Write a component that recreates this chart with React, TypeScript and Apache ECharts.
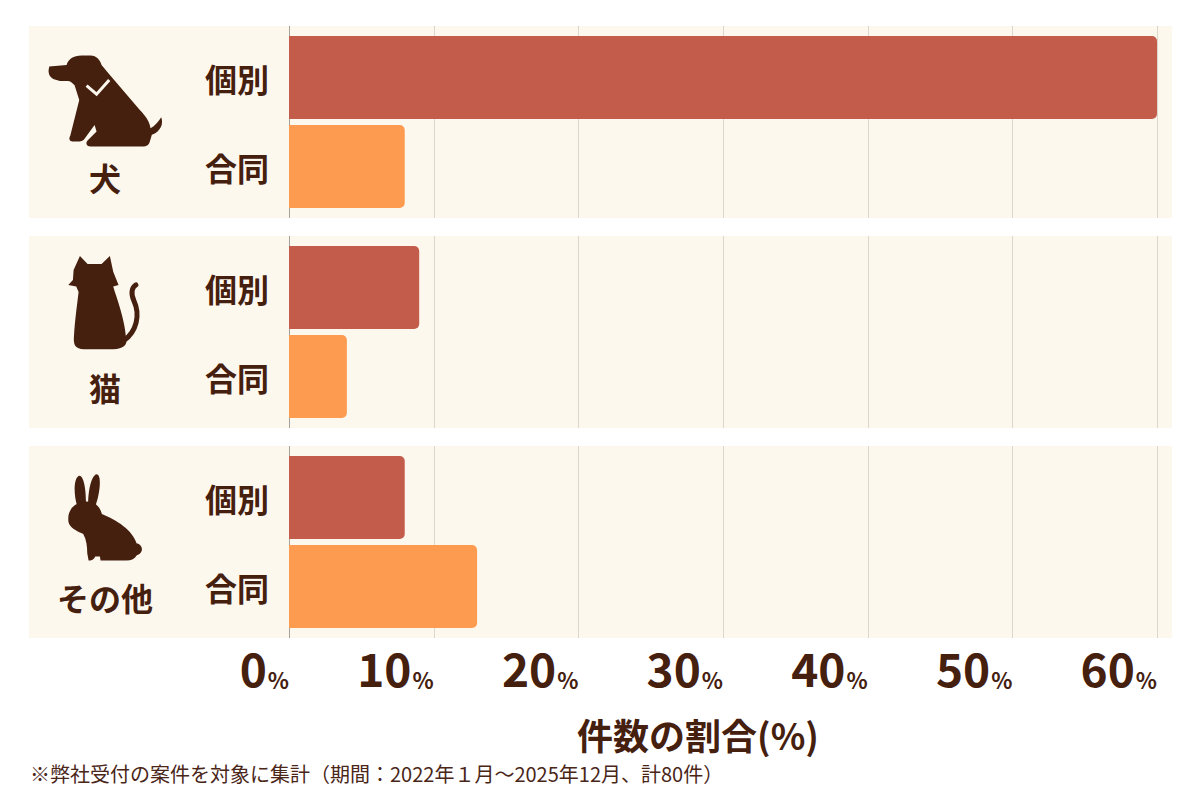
import { useEffect, useRef } from 'react'
import * as echarts from 'echarts'

// 動物ごとの件数割合(%)
const categories = ['犬', '猫', 'その他']
const rowLabels = ['個別', '合同']
const kobetsuValues = [60, 9, 8]
const goudouValues = [8, 4, 13]
const xTicks = [0, 10, 20, 30, 40, 50, 60]

const FONT = '"Noto Sans CJK JP", "Noto Sans", sans-serif'
const TEXT = '#45200f'
const KOBETSU = '#c45c4b'
const GOUDOU = '#fd9b50'
const PANEL = '#fdf8ee'
const GRID_LINE = '#dcd6cd'
const AXIS_LINE = '#a7a199'
const BAR_W = 83
const BAR_GAP = 6

// アイコン (拡大3倍の座標で描いたもの)
const DOG =
  'M148,200 L200,195 C205,178 220,167 245,167 L272,167 C290,167 300,180 305,195 L330,225 L420,330 C440,350 450,368 452,385 C465,378 476,366 484,352 C492,372 482,395 456,405 L450,425 C448,435 440,440 430,440 L272,440 C260,440 256,430 263,422 L290,395 L284,375 L255,415 C250,424 242,425 232,425 L218,425 C208,425 206,416 211,408 L238,300 L224,256 C216,247 210,243 204,243 L180,243 L162,238 C150,232 145,222 146,210 Z'
const DOG_COLLAR = 'M260,257 L290,283 L328,240'
const CAT =
  'M240,78 L263,102 L305,102 L330,78 L340,125 L356,165 L340,170 L345,186 C360,230 375,280 378,320 C386,345 370,358 340,358 L252,358 C226,358 220,345 222,320 C225,270 232,220 236,186 L229,170 L205,165 L219,150 L221,120 Z'
const CAT_TAIL = 'M372,332 C410,305 422,255 402,212 C392,190 396,172 408,165'
const RABBIT =
  'M232,200 C220,160 222,116 236,108 C251,102 259,150 258,190 Z M265,190 C265,150 275,106 290,103 C306,103 301,160 286,200 Z M205,235 C205,205 230,185 260,185 C285,185 300,200 306,222 C350,240 398,270 410,310 C430,314 433,340 411,346 C405,356 395,362 380,362 L302,362 L300,350 L286,350 C281,362 272,362 266,362 L262,340 C262,320 260,300 250,282 C235,276 216,266 210,256 C205,249 205,242 205,235 Z'

// 参照図での各アイコンの位置合わせ (帯の中心からのずれ)
const iconOffsets = [-122, -102, -102]

export default function App() {
  const chartRef = useRef<HTMLDivElement>(null)

  useEffect(() => {
    if (!chartRef.current) return
    const chart = echarts.init(chartRef.current, null, { renderer: 'svg' })

    const option = {
      animation: false,
      backgroundColor: '#ffffff',
      grid: { left: 289, right: 43, top: 17, bottom: 153 },
      xAxis: {
        type: 'value',
        min: 0,
        max: 60,
        interval: 10,
        splitLine: { show: false },
        axisLine: { show: false },
        axisTick: { show: false },
        axisLabel: {
          align: 'right',
          margin: -1,
          formatter: (v: number) => `{n|${v}}{p|%}`,
          rich: {
            n: { fontSize: 46, fontWeight: 'bold', color: TEXT, fontFamily: FONT, verticalAlign: 'bottom', lineHeight: 44 },
            p: { fontSize: 22, fontWeight: 'bold', color: TEXT, fontFamily: FONT, verticalAlign: 'bottom', lineHeight: 44, padding: [0, 0, 0, 1] }
          }
        }
      },
      yAxis: {
        type: 'category',
        inverse: true,
        data: categories,
        axisLine: { show: false },
        axisTick: { show: false },
        axisLabel: { show: false }
      },
      series: [
        {
          type: 'custom',
          name: 'panel',
          silent: true,
          z: 1,
          clip: false,
          encode: { x: 0, y: 1 },
          data: categories.map((_, i) => [0, i]),
          renderItem: (params: any, api: any) => {
            const i = api.value(1)
            const [x0, cy] = api.coord([0, i])
            const xMax = api.coord([60, i])[0]
            const band = api.size([0, 1])[1]
            const half = band * 0.457
            const top = cy - half
            const bottom = cy + half
            const children: any[] = []
            children.push({
              type: 'rect',
              shape: { x: x0 - 260, y: top, width: xMax + 15 - (x0 - 260), height: bottom - top },
              style: { fill: PANEL }
            })
            xTicks.forEach((t) => {
              const x = Math.round(api.coord([t, i])[0]) + 0.5
              children.push({
                type: 'line',
                shape: { x1: x, y1: top, x2: x, y2: bottom },
                style: { stroke: t === 0 ? AXIS_LINE : GRID_LINE, lineWidth: 1 }
              })
            })
            const off = (BAR_W + BAR_GAP) / 2
            rowLabels.forEach((lab, k) => {
              children.push({
                type: 'text',
                style: {
                  text: lab,
                  x: x0 - 20,
                  y: cy + (k === 0 ? -off : off),
                  align: 'right',
                  verticalAlign: 'middle',
                  fontSize: 32,
                  fontWeight: 'bold',
                  fontFamily: FONT,
                  fill: TEXT
                }
              })
            })
            children.push({
              type: 'text',
              style: {
                text: categories[i],
                x: x0 - 184,
                y: cy + 55,
                align: 'center',
                verticalAlign: 'middle',
                fontSize: 32,
                fontWeight: 'bold',
                fontFamily: FONT,
                fill: TEXT
              }
            })
            const ox = x0 - 289
            const oy = cy + iconOffsets[i]
            const icon = i === 0 ? DOG : i === 1 ? CAT : RABBIT
            children.push({
              type: 'path',
              shape: { pathData: icon },
              x: ox,
              y: oy,
              scaleX: 1 / 3,
              scaleY: 1 / 3,
              style: { fill: TEXT }
            })
            if (i === 0) {
              children.push({
                type: 'path',
                shape: { pathData: DOG_COLLAR },
                x: ox,
                y: oy,
                scaleX: 1 / 3,
                scaleY: 1 / 3,
                style: { fill: 'none', stroke: PANEL, lineWidth: 9, lineJoin: 'miter' }
              })
            }
            if (i === 1) {
              children.push({
                type: 'path',
                shape: { pathData: CAT_TAIL },
                x: ox,
                y: oy,
                scaleX: 1 / 3,
                scaleY: 1 / 3,
                style: { fill: 'none', stroke: TEXT, lineWidth: 15, lineCap: 'round' }
              })
            }
            return { type: 'group', children }
          }
        },
        {
          type: 'bar',
          name: '個別',
          z: 2,
          data: kobetsuValues,
          barWidth: BAR_W,
          barGap: `${(BAR_GAP / BAR_W) * 100}%`,
          itemStyle: { color: KOBETSU, borderRadius: [0, 5, 5, 0] }
        },
        {
          type: 'bar',
          name: '合同',
          z: 2,
          data: goudouValues,
          barWidth: BAR_W,
          barGap: `${(BAR_GAP / BAR_W) * 100}%`,
          itemStyle: { color: GOUDOU, borderRadius: [0, 5, 5, 0] }
        }
      ],
      graphic: [
        {
          type: 'text',
          x: 698,
          y: 734,
          style: {
            text: '件数の割合(%)',
            align: 'center',
            verticalAlign: 'middle',
            fontSize: 36,
            fontWeight: 'bold',
            fontFamily: FONT,
            fill: TEXT
          }
        },
        {
          type: 'text',
          x: 30,
          y: 773,
          style: {
            text: '※弊社受付の案件を対象に集計（期間：2022年１月～2025年12月、計80件）',
            align: 'left',
            verticalAlign: 'middle',
            fontSize: 20,
            fontFamily: FONT,
            fill: '#4a2618'
          }
        }
      ]
    }

    chart.setOption(option)

    return () => {
      chart.dispose()
    }
  }, [])

  return (
    <div
      ref={chartRef}
      style={{ position: 'absolute', left: 0, top: 0, width: 1200, height: 800 }}
    />
  )
}
